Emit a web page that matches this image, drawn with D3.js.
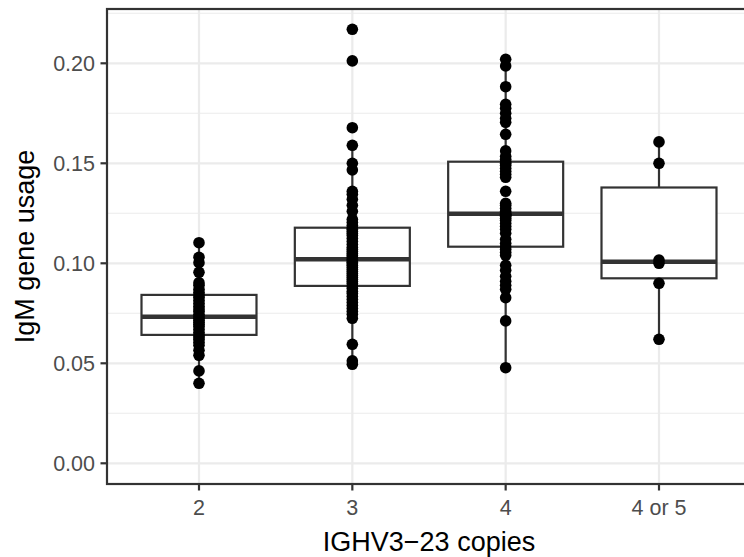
<!DOCTYPE html>
<html>
<head>
<meta charset="utf-8">
<script src="https://cdn.jsdelivr.net/npm/d3@7"></script>
<style>
  body { margin: 0; background: #fff; }
  text { font-family: "Liberation Sans", Arial, Helvetica, sans-serif; }
</style>
</head>
<body>
<svg id="chart" width="744" height="557"></svg>
<script>
// Copy-number groups on the x axis
const categories = ["2", "3", "4", "4 or 5"];

// IgM gene usage per donor, one array per group
const usage2 = [
  0.0400, 0.0462, 0.0540, 0.0565, 0.0590, 0.0605, 0.0620, 0.0632, 0.0642,
  0.0655, 0.0670, 0.0685, 0.0695, 0.0705, 0.0715, 0.0725, 0.0733,
  0.0745, 0.0760, 0.0772, 0.0785, 0.0800, 0.0815, 0.0830, 0.0842,
  0.0855, 0.0870, 0.0890, 0.0903, 0.0955, 0.1003, 0.1030, 0.1103
];
const usage3 = [
  0.0495, 0.0512, 0.0595, 0.0725, 0.0745, 0.0760, 0.0775, 0.0790, 0.0805, 0.0820, 0.0835, 0.0850, 0.0860, 0.0875,
  0.0887,
  0.0900, 0.0910, 0.0920, 0.0930, 0.0940, 0.0950, 0.0960, 0.0970, 0.0980, 0.0990, 0.0998, 0.1005, 0.1012,
  0.1020,
  0.1030, 0.1040, 0.1050, 0.1060, 0.1070, 0.1080, 0.1095, 0.1110, 0.1125, 0.1140, 0.1150, 0.1160, 0.1170,
  0.1178,
  0.1190, 0.1205, 0.1220, 0.1260, 0.1290, 0.1320, 0.1345, 0.1360, 0.1467, 0.1500, 0.1590, 0.1678, 0.2012, 0.2170
];
const usage4 = [
  0.0478, 0.0712, 0.0828, 0.0870, 0.0890, 0.0910, 0.0935, 0.0965, 0.0990, 0.1040, 0.1055, 0.1070,
  0.1083,
  0.1100, 0.1120, 0.1150, 0.1170, 0.1185, 0.1200, 0.1215, 0.1225, 0.1235, 0.1240, 0.1245,
  0.1248,
  0.1260, 0.1275, 0.1290, 0.1300, 0.1360, 0.1430, 0.1445, 0.1460, 0.1475, 0.1490, 0.1500,
  0.1508,
  0.1520, 0.1535, 0.1562, 0.1645, 0.1705, 0.1725, 0.1750, 0.1775, 0.1795, 0.1883, 0.1987, 0.2020
];
const usage4or5 = [0.0620, 0.0900, 0.1000, 0.1016, 0.1500, 0.1607];

const groupValues = [usage2, usage3, usage4, usage4or5];

// Axis ticks
const yMajorTicks = [0.00, 0.05, 0.10, 0.15, 0.20];
const yMinorTicks = [0.025, 0.075, 0.125, 0.175, 0.225];
const yTickLabels = ["0.00", "0.05", "0.10", "0.15", "0.20"];

const xTitle = "IGHV3\u221223 copies";
const yTitle = "IgM gene usage";

// ---- layout ----
const W = 744, H = 557;
const panel = { left: 107, right: 751, top: 9, bottom: 484 };
const ink = "#333333";
const gridCol = "#EBEBEB";
const tickLen = 6.5;
const lineW = 2.2;
const tickFont = 21.5;
const titleFont = 27;

const svg = d3.select("#chart");
svg.append("rect").attr("width", W).attr("height", H).attr("fill", "#fff");

const x = d3.scalePoint()
  .domain(categories)
  .range([panel.left, panel.right])
  .padding(0.6);

const y = d3.scaleLinear()
  .domain([-0.01035, 0.22715])
  .range([panel.bottom, panel.top]);

const boxWidth = x.step() * 0.75;

// panel grid
const grid = svg.append("g");
grid.selectAll("line.minor")
  .data(yMinorTicks)
  .join("line")
  .attr("x1", panel.left).attr("x2", panel.right)
  .attr("y1", d => y(d)).attr("y2", d => y(d))
  .attr("stroke", gridCol).attr("stroke-width", lineW / 2);
grid.selectAll("line.majorY")
  .data(yMajorTicks)
  .join("line")
  .attr("x1", panel.left).attr("x2", panel.right)
  .attr("y1", d => y(d)).attr("y2", d => y(d))
  .attr("stroke", gridCol).attr("stroke-width", lineW);
grid.selectAll("line.majorX")
  .data(categories)
  .join("line")
  .attr("x1", d => x(d)).attr("x2", d => x(d))
  .attr("y1", panel.top).attr("y2", panel.bottom)
  .attr("stroke", gridCol).attr("stroke-width", lineW);

// boxplot statistics (Tukey, type-7 quantiles)
const stats = categories.map((c, i) => {
  const v = groupValues[i].slice().sort(d3.ascending);
  const q1 = d3.quantile(v, 0.25);
  const med = d3.quantile(v, 0.5);
  const q3 = d3.quantile(v, 0.75);
  const iqr = q3 - q1;
  const lo = d3.min(v.filter(d => d >= q1 - 1.5 * iqr));
  const hi = d3.max(v.filter(d => d <= q3 + 1.5 * iqr));
  return { cat: c, q1, med, q3, lo, hi };
});

const boxes = svg.append("g");
const bg = boxes.selectAll("g").data(stats).join("g");
bg.append("line")
  .attr("x1", d => x(d.cat)).attr("x2", d => x(d.cat))
  .attr("y1", d => y(d.hi)).attr("y2", d => y(d.q3))
  .attr("stroke", ink).attr("stroke-width", lineW);
bg.append("line")
  .attr("x1", d => x(d.cat)).attr("x2", d => x(d.cat))
  .attr("y1", d => y(d.q1)).attr("y2", d => y(d.lo))
  .attr("stroke", ink).attr("stroke-width", lineW);
bg.append("rect")
  .attr("x", d => x(d.cat) - boxWidth / 2)
  .attr("width", boxWidth)
  .attr("y", d => y(d.q3))
  .attr("height", d => y(d.q1) - y(d.q3))
  .attr("fill", "#fff").attr("stroke", ink).attr("stroke-width", lineW);
bg.append("line")
  .attr("x1", d => x(d.cat) - boxWidth / 2).attr("x2", d => x(d.cat) + boxWidth / 2)
  .attr("y1", d => y(d.med)).attr("y2", d => y(d.med))
  .attr("stroke", ink).attr("stroke-width", lineW * 2);

// individual donors
const pts = categories.flatMap((c, i) => groupValues[i].map(v => ({ cat: c, v })));
svg.append("g").selectAll("circle")
  .data(pts)
  .join("circle")
  .attr("cx", d => x(d.cat))
  .attr("cy", d => y(d.v))
  .attr("r", 5.8)
  .attr("fill", "#000");

// panel border
svg.append("rect")
  .attr("x", panel.left).attr("y", panel.top)
  .attr("width", panel.right - panel.left)
  .attr("height", panel.bottom - panel.top)
  .attr("fill", "none").attr("stroke", ink).attr("stroke-width", lineW);

// y axis
const yAxis = svg.append("g");
yAxis.selectAll("line")
  .data(yMajorTicks)
  .join("line")
  .attr("x1", panel.left - tickLen).attr("x2", panel.left)
  .attr("y1", d => y(d)).attr("y2", d => y(d))
  .attr("stroke", ink).attr("stroke-width", lineW);
yAxis.selectAll("text")
  .data(yMajorTicks)
  .join("text")
  .attr("x", panel.left - tickLen - 5.5)
  .attr("y", d => y(d))
  .attr("dy", "0.36em")
  .attr("text-anchor", "end")
  .attr("font-size", tickFont)
  .attr("fill", "#4D4D4D")
  .text((d, i) => yTickLabels[i]);

// x axis
const xAxis = svg.append("g");
xAxis.selectAll("line")
  .data(categories)
  .join("line")
  .attr("x1", d => x(d)).attr("x2", d => x(d))
  .attr("y1", panel.bottom).attr("y2", panel.bottom + tickLen)
  .attr("stroke", ink).attr("stroke-width", lineW);
xAxis.selectAll("text")
  .data(categories)
  .join("text")
  .attr("x", d => x(d))
  .attr("y", 515)
  .attr("text-anchor", "middle")
  .attr("font-size", tickFont)
  .attr("fill", "#4D4D4D")
  .text(d => d);

// axis titles
svg.append("text")
  .attr("x", (panel.left + panel.right) / 2)
  .attr("y", 551)
  .attr("text-anchor", "middle")
  .attr("font-size", titleFont)
  .attr("fill", "#000")
  .text(xTitle);
svg.append("text")
  .attr("transform", `translate(${34},${(panel.top + panel.bottom) / 2}) rotate(-90)`)
  .attr("text-anchor", "middle")
  .attr("font-size", titleFont)
  .attr("fill", "#000")
  .text(yTitle);
</script>
</body>
</html>
